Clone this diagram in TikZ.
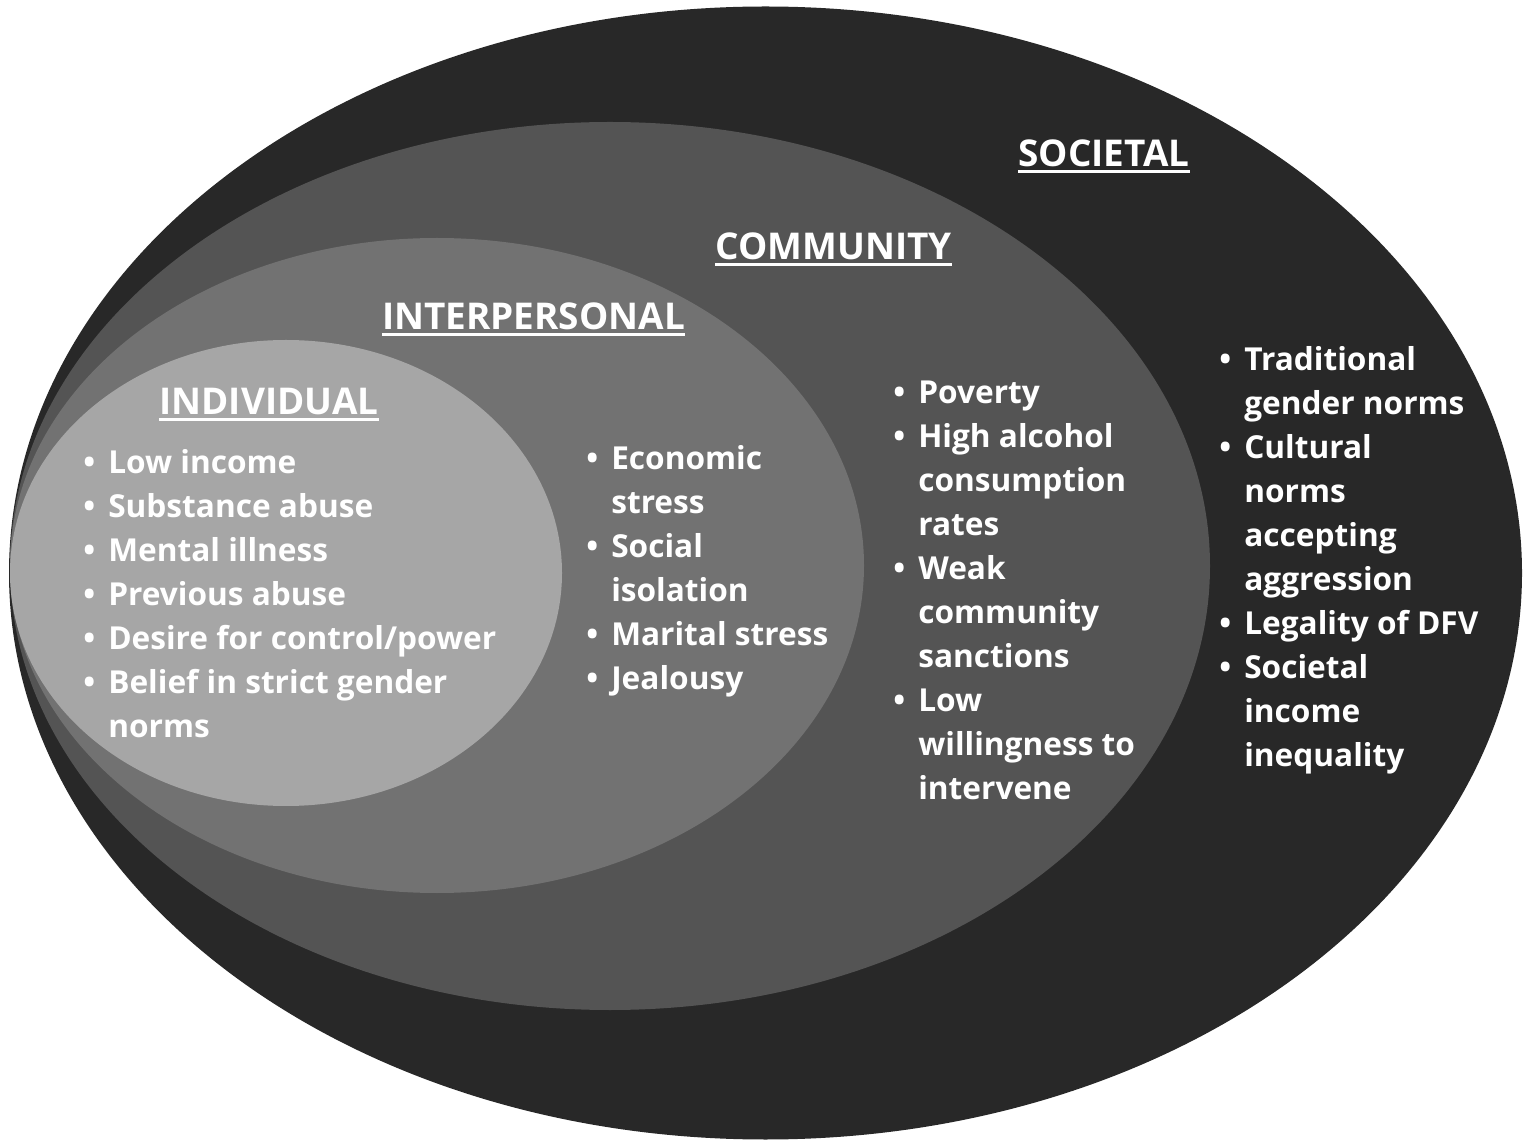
\documentclass[tikz,border=0pt]{standalone}
\usepackage{fontspec}
\setmainfont{Open Sans}
\definecolor{socC}{HTML}{282828}
\definecolor{comC}{HTML}{545454}
\definecolor{intC}{HTML}{727272}
\definecolor{indC}{HTML}{A6A6A6}
\newcommand\bul{\makebox[14.2pt][l]{•}}
\begin{document}
\begin{tikzpicture}[x=0.02cm,y=0.02cm,
  head/.style={text=white, inner sep=0pt, font=\bfseries\fontsize{21}{26}\selectfont},
  lst/.style={text=white, inner sep=0pt, align=left, font=\bfseries\fontsize{18}{25.04}\selectfont},
  uline/.style={white, line width=1.7pt}]
\fill[white] (0,0) rectangle (1535,-1141);
\useasboundingbox (0,0) rectangle (1535,-1141);
% nested ellipses
\fill[socC] (765.5,-573) ellipse [x radius=756.5, y radius=566.5];
\fill[comC] (610,-566) ellipse [x radius=600, y radius=444];
\fill[intC] (437,-565.5) ellipse [x radius=427, y radius=327.5];
\fill[indC] (286,-573) ellipse [x radius=276, y radius=233];
% headings
\node[head, anchor=base] (hInd) at (269,-415) {INDIVIDUAL};
\node[head, anchor=base] (hInt) at (533.5,-330) {INTERPERSONAL};
\node[head, anchor=base] (hCom) at (833.5,-260) {COMMUNITY};
\node[head, anchor=base] (hSoc) at (1104,-167) {SOCIETAL};
\foreach \h in {hInd,hInt,hCom,hSoc}{
  \draw[uline] ([yshift=-2.6pt]\h.base west) -- ([yshift=-2.6pt]\h.base east);
}
% lists
\node[lst, anchor=base west] (lInd) at (83,-474) {%
\begin{tabular}[t]{@{}l@{}l@{}}
\bul & Low income\\
\bul & Substance abuse\\
\bul & Mental illness\\
\bul & Previous abuse\\
\bul & Desire for control/power\\
\bul & Belief in strict gender\\
     & norms
\end{tabular}};
\node[lst, anchor=base west] (lInt) at (586,-470) {%
\begin{tabular}[t]{@{}l@{}l@{}}
\bul & Economic\\
     & stress\\
\bul & Social\\
     & isolation\\
\bul & Marital stress\\
\bul & Jealousy
\end{tabular}};
\node[lst, anchor=base west] (lCom) at (893,-404) {%
\begin{tabular}[t]{@{}l@{}l@{}}
\bul & Poverty\\
\bul & High alcohol\\
     & consumption\\
     & rates\\
\bul & Weak\\
     & community\\
     & sanctions\\
\bul & Low\\
     & willingness to\\
     & intervene
\end{tabular}};
\node[lst, anchor=base west] (lSoc) at (1219,-371) {%
\begin{tabular}[t]{@{}l@{}l@{}}
\bul & Traditional\\
     & gender norms\\
\bul & Cultural\\
     & norms\\
     & accepting\\
     & aggression\\
\bul & Legality of DFV\\
\bul & Societal\\
     & income\\
     & inequality
\end{tabular}};
\end{tikzpicture}
\end{document}
